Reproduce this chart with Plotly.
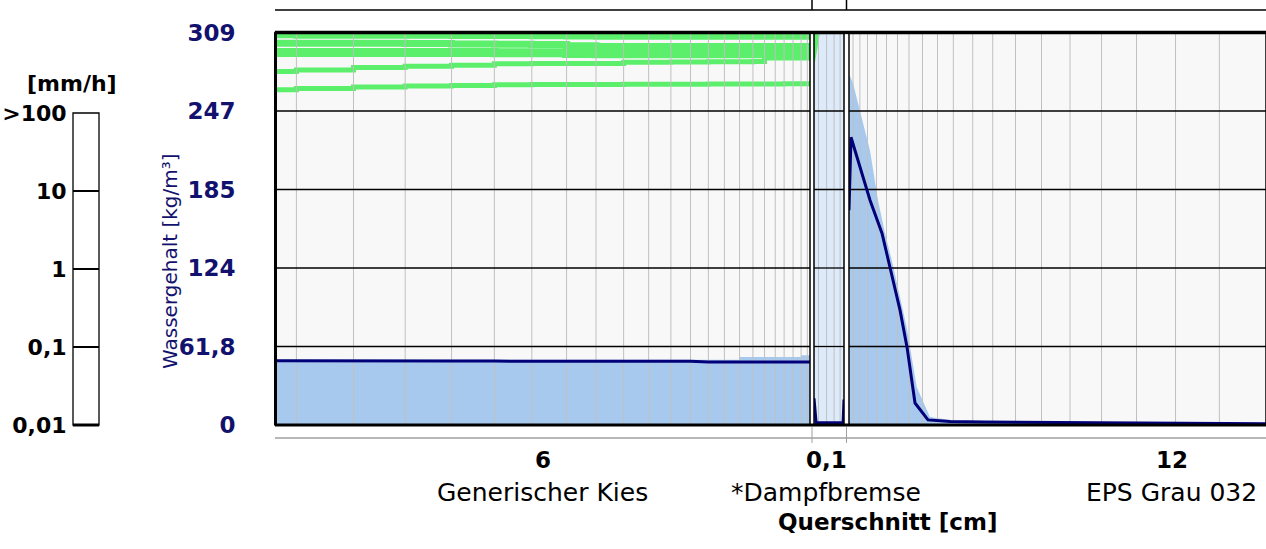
import plotly.graph_objects as go

W, H = 1266, 549

# ---------------- data ----------------
y_ticks = [0, 61.8, 123.6, 185.4, 247.2, 309]
y_ticktext = ["0", "61,8", "124", "185", "247", "309"]

rain_ticks = [0.01, 0.1, 1, 10, 100]
rain_ticktext = ["0,01", "0,1", "1", "10", ">100"]

layer_names = ["Generischer Kies", "*Dampfbremse", "EPS Grau 032"]
layer_thickness_text = ["6", "0,1", "12"]
layer_centers = [3.0, 0.05, 6.0]

# mesh (element boundaries) in cm
kies_x = [0, 0.24, 0.88, 1.46, 1.98, 2.46, 2.88, 3.27, 3.60, 3.91, 4.19, 4.44,
          4.66, 4.86, 5.04, 5.21, 5.36, 5.49, 5.61, 5.71, 5.81, 5.90, 5.97, 6.0]
damp_mesh = [0.015, 0.042, 0.067, 0.087]
eps_mesh = [0.074, 0.20, 0.34, 0.506, 0.69, 0.893, 1.104, 1.353, 1.629, 1.92,
            2.277, 2.645, 3.065, 3.543, 4.068, 4.648, 5.292, 6.01, 6.816]

# water content, current profile [kg/m3]
kies_w = [50.6, 50.5, 50.4, 50.4, 50.3, 50.3, 50.3, 50.3, 50.3, 50.3, 50.2, 50.2,
          50.1, 49.6, 49.6, 49.6, 49.6, 49.5, 49.5, 49.5, 49.5, 49.5, 49.5, 49.5]
damp_x = [0, 0.007, 0.097, 0.1]
damp_w = [21, 1.8, 1.8, 20]
eps_x = [0, 0.037, 0.387, 0.607, 0.755, 0.939, 1.068, 1.215, 1.454, 1.86, 2.5, 4.3, 5.6, 6.8, 7.7]
eps_w = [169, 226.5, 177, 151, 124, 90.4, 61.3, 17.3, 4.0, 2.8, 2.3, 1.9, 1.6, 1.2, 1.0]

# maximum water content envelope
kies_max = [51.3, 51.3, 51.3, 51.3, 51.3, 51.3, 51.3, 51.3, 51.3, 51.3, 51.3, 51.3,
            51.3, 51.3, 51.3, 53.5, 53.5, 53.5, 53.5, 53.5, 53.5, 55.0, 55.0, 55.0]
damp_max_x = [0, 0.1]
damp_max = [309, 309]
eps_max_x = [0, 0.018, 0.074, 0.2025, 0.387, 0.534, 0.663, 0.786, 0.878, 1.062,
             1.246, 1.49, 1.914, 2.78, 7.7]
eps_max = [275, 275, 269, 248, 216, 177, 151, 130, 112, 77, 30, 6.3, 3.5, 2.8, 1.3]

# green profiles in the gravel layer (stepped per element)
kies_g1 = [264, 265, 266, 266.8, 267.3, 267.9, 268, 268, 268, 268.2, 268.2, 268.3,
           268.3, 268.4, 268.4, 268.5, 268.5, 268.5, 268.5, 268.6, 268.6, 268.6, 268.6, 268.6]
kies_g2 = [278.2, 279.5, 281.5, 282.5, 283.3, 284.4, 284.6, 284.5, 284.6, 285.5, 285.6, 285.7,
           285.8, 285.9, 286, 286, 286.1, 289, 289, 289, 289, 289, 289, 289]
kies_g3 = [293.3, 293.3, 293.3, 293.3, 293.3, 293.0, 293.0, 292.5, 292.3, 292.3, 292.3, 292.3,
           292.3, 292.3, 292.3, 292.3, 292.3, 292.3, 292.3, 292.3, 292.3, 292.3, 292.3, 292.3]
kies_g4 = [300.5, 300.5, 300.5, 300.3, 300.0, 299.8, 299.5, 298.5, 298.0, 298.0, 298.0, 298.0,
           298.0, 298.0, 298.0, 298.0, 298.0, 298.0, 298.0, 298.0, 298.0, 298.0, 298.0, 298.0]
kies_g5 = [306.8, 306.5, 306.5, 306.5, 306.3, 306.2, 306.0, 305.8, 305.7, 305.7, 305.7, 305.7,
           305.7, 305.7, 305.7, 305.7, 305.7, 305.7, 305.7, 305.7, 305.7, 305.7, 305.7, 305.7]
damp_green_x = [0, 0.02, 0.003, 0]
damp_green_y = [309, 309, 285, 290]

# ---------------- styling ----------------
NAVY = "#000078"
NAVY_TXT = "#12126e"
FILL = "#A8C9EE"
FILL_LIGHT = "#DDEAF9"
GREEN = "#5BEF6B"
GRID = "#c0c0c0"
FONT = "DejaVu Sans"

def px(xp):
    return xp / W

def py(yp):
    return 1 - yp / H

ymin, ymax = y_ticks[0], y_ticks[-1]
kies_range = [0, 6]
damp_range = [0, 0.1]
eps_range = [0, 7.675]

dom_kies = [px(275), px(810)]
dom_damp = [px(814), px(844)]
dom_eps = [px(849), 1.0]
dom_y = [py(425), py(32.5)]

fig = go.Figure()

def grid_traces(xa, ya, mesh, xr):
    vx, vy = [], []
    for m in mesh:
        vx += [m, m, None]
        vy += [ymin, ymax, None]
    fig.add_trace(go.Scatter(x=vx, y=vy, mode="lines", line=dict(color=GRID, width=1),
                             xaxis=xa, yaxis=ya, hoverinfo="skip", showlegend=False))
    hx, hy = [], []
    for v in y_ticks[1:-1]:
        hx += [xr[0], xr[1], None]
        hy += [v, v, None]
    fig.add_trace(go.Scatter(x=hx, y=hy, mode="lines", line=dict(color="black", width=1.3),
                             xaxis=xa, yaxis=ya, hoverinfo="skip", showlegend=False))

# --- Kies ---
for g, wd in [(kies_g1, 5), (kies_g2, 5), (kies_g3, 9), (kies_g4, 7), (kies_g5, 6)]:
    fig.add_trace(go.Scatter(x=kies_x, y=g, mode="lines", line=dict(color=GREEN, width=wd, shape="hv"),
                             xaxis="x", yaxis="y", showlegend=False))
fig.add_trace(go.Scatter(x=kies_x, y=kies_max, mode="lines", fill="tozeroy", fillcolor=FILL,
                         line=dict(color=FILL, width=0, shape="hv"), xaxis="x", yaxis="y", showlegend=False))
grid_traces("x", "y", kies_x[1:-1], kies_range)
fig.add_trace(go.Scatter(x=kies_x, y=kies_w, mode="lines", line=dict(color=NAVY, width=3),
                         xaxis="x", yaxis="y", showlegend=False))

# --- Dampfbremse ---
fig.add_trace(go.Scatter(x=damp_max_x, y=damp_max, mode="lines", fill="tozeroy", fillcolor=FILL_LIGHT,
                         line=dict(color=FILL_LIGHT, width=0), xaxis="x2", yaxis="y2", showlegend=False))
fig.add_trace(go.Scatter(x=damp_green_x, y=damp_green_y, mode="lines", fill="toself", fillcolor=GREEN,
                         line=dict(color=GREEN, width=0), xaxis="x2", yaxis="y2", showlegend=False))
grid_traces("x2", "y2", damp_mesh, damp_range)
fig.add_trace(go.Scatter(x=damp_x, y=damp_w, mode="lines", line=dict(color=NAVY, width=3),
                         xaxis="x2", yaxis="y2", showlegend=False))

# --- EPS ---
fig.add_trace(go.Scatter(x=eps_max_x, y=eps_max, mode="lines", fill="tozeroy", fillcolor=FILL,
                         line=dict(color=FILL, width=0), xaxis="x3", yaxis="y3", showlegend=False))
grid_traces("x3", "y3", eps_mesh, eps_range)
fig.add_trace(go.Scatter(x=eps_x, y=eps_w, mode="lines", line=dict(color=NAVY, width=3),
                         xaxis="x3", yaxis="y3", showlegend=False))

# --- rain scale (left) ---
fig.add_trace(go.Scatter(x=[0, 1], y=[0.01, 0.01], mode="lines", line=dict(width=0),
                         xaxis="x4", yaxis="y4", hoverinfo="skip", showlegend=False))

noax = dict(showgrid=False, zeroline=False, showticklabels=False, ticks="", showline=False,
            automargin=False)

fig.update_layout(
    template="none",
    width=W, height=H, autosize=False,
    margin=dict(l=0, r=0, t=0, b=0, pad=0, autoexpand=False),
    paper_bgcolor="white",
    plot_bgcolor="#f8f8f8",
    showlegend=False,
    xaxis=dict(domain=dom_kies, range=kies_range, anchor="y", **noax),
    xaxis2=dict(domain=dom_damp, range=damp_range, anchor="y2", **noax),
    xaxis3=dict(domain=dom_eps, range=eps_range, anchor="y3", **noax),
    yaxis=dict(domain=dom_y, range=[ymin, ymax], anchor="x", showgrid=False, zeroline=False,
               showline=False, automargin=False, tickvals=y_ticks, ticktext=y_ticktext,
               ticks="outside", ticklen=34, tickcolor="rgba(0,0,0,0)",
               tickfont=dict(family=FONT, size=23, color=NAVY_TXT, weight="bold")),
    yaxis2=dict(domain=dom_y, range=[ymin, ymax], anchor="x2", **noax),
    yaxis3=dict(domain=dom_y, range=[ymin, ymax], anchor="x3", **noax),
    xaxis4=dict(domain=[px(73), px(99)], range=[0, 1], anchor="y4", **noax),
    yaxis4=dict(domain=[py(425), py(113)], type="log", range=[-2, 2], anchor="x4",
                tickvals=rain_ticks, ticktext=rain_ticktext, showgrid=True, gridcolor="black",
                gridwidth=1.3, zeroline=False, showline=False, ticks="outside", ticklen=1,
                tickcolor="rgba(0,0,0,0)", automargin=False,
                tickfont=dict(family=FONT, size=22, color="black", weight="bold")),
)

shapes = []
# white background for rain scale
shapes.append(dict(type="rect", xref="x4 domain", yref="y4 domain", x0=0, x1=1, y0=0, y1=1,
                   fillcolor="white", line=dict(width=0), layer="below"))
shapes.append(dict(type="rect", xref="x4 domain", yref="y4 domain", x0=0, x1=1, y0=0, y1=1,
                   line=dict(color="black", width=1.3), layer="above"))
shapes.append(dict(type="line", xref="x4 domain", yref="y4 domain", x0=0, x1=1, y0=0, y1=0,
                   line=dict(color="black", width=3), layer="above"))

# frames of the three layer panels
for xa in ["x", "x2", "x3"]:
    ya = {"x": "y", "x2": "y2", "x3": "y3"}[xa]
    shapes.append(dict(type="rect", xref=f"{xa} domain", yref=f"{ya} domain", x0=0, x1=1, y0=0, y1=1,
                       line=dict(color="black", width=1.5), layer="above"))
# thick top / bottom / left borders
shapes.append(dict(type="line", xref="paper", yref="paper", x0=dom_kies[0], x1=1, y0=dom_y[1], y1=dom_y[1],
                   line=dict(color="black", width=3.5), layer="above"))
shapes.append(dict(type="line", xref="paper", yref="paper", x0=dom_kies[0], x1=1, y0=dom_y[0], y1=dom_y[0],
                   line=dict(color="black", width=3), layer="above"))
shapes.append(dict(type="line", xref="paper", yref="paper", x0=dom_kies[0] + px(0.5), x1=dom_kies[0] + px(0.5),
                   y0=dom_y[0], y1=dom_y[1], line=dict(color="black", width=3), layer="above"))
# white gaps between panels (cover frame lines)
for a, b in [(dom_kies[1], dom_damp[0]), (dom_damp[1], dom_eps[0])]:
    shapes.append(dict(type="rect", xref="paper", yref="paper", x0=a + px(1), x1=b - px(1),
                       y0=dom_y[0] + 2 / H, y1=dom_y[1] - 2 / H,
                       fillcolor="white", line=dict(width=0), layer="above"))

# top strip (bottom of layer bar above)
gap1 = (dom_kies[1] + dom_damp[0]) / 2
gap2 = (dom_damp[1] + dom_eps[0]) / 2
shapes.append(dict(type="line", xref="paper", yref="paper", x0=dom_kies[0], x1=1, y0=py(10), y1=py(10),
                   line=dict(color="black", width=1.5)))
for g in [gap1, gap2]:
    shapes.append(dict(type="line", xref="paper", yref="paper", x0=g, x1=g, y0=py(10), y1=1,
                       line=dict(color="black", width=1.5)))
# bottom gray dimension line
shapes.append(dict(type="line", xref="paper", yref="paper", x0=dom_kies[0], x1=1, y0=py(438), y1=py(438),
                   line=dict(color="#a0a0a0", width=1.5)))
for g in [gap1, gap2]:
    shapes.append(dict(type="line", xref="paper", yref="paper", x0=g, x1=g, y0=py(427), y1=py(443),
                       line=dict(color="#a0a0a0", width=1)))

fig.update_layout(shapes=shapes)

ann = []
ann.append(dict(text="[mm/h]", x=px(72), y=py(83), xref="paper", yref="paper", showarrow=False,
                xanchor="center", yanchor="middle",
                font=dict(family=FONT, size=22, color="black", weight="bold")))
ann.append(dict(text="Wassergehalt [kg/m³]", x=px(170), y=py(261), xref="paper", yref="paper",
                showarrow=False, textangle=-90, xanchor="center", yanchor="middle",
                font=dict(family=FONT, size=20, color=NAVY_TXT)))
shifts = [0, -3, -3]
for xa, c, t, n, s in zip(["x", "x2", "x3"], layer_centers, layer_thickness_text, layer_names, shifts):
    ann.append(dict(text=t, x=c, xref=xa, y=py(460), yref="paper", showarrow=False,
                    xanchor="center", yanchor="middle", xshift=s,
                    font=dict(family=FONT, size=23, color="black", weight="bold")))
    ann.append(dict(text=n, x=c, xref=xa, y=py(492), yref="paper", showarrow=False,
                    xanchor="center", yanchor="middle", xshift=s,
                    font=dict(family=FONT, size=25, color="black")))
ann.append(dict(text="Querschnitt [cm]", x=px(887), y=py(522), xref="paper", yref="paper", showarrow=False,
                xanchor="center", yanchor="middle",
                font=dict(family=FONT, size=23, color="black", weight="bold")))
fig.update_layout(annotations=ann)

fig.write_html(
    "out.html",
    config={"displayModeBar": False, "staticPlot": True},
    post_script="document.body.style.margin='0';document.body.style.overflow='hidden';",
)
